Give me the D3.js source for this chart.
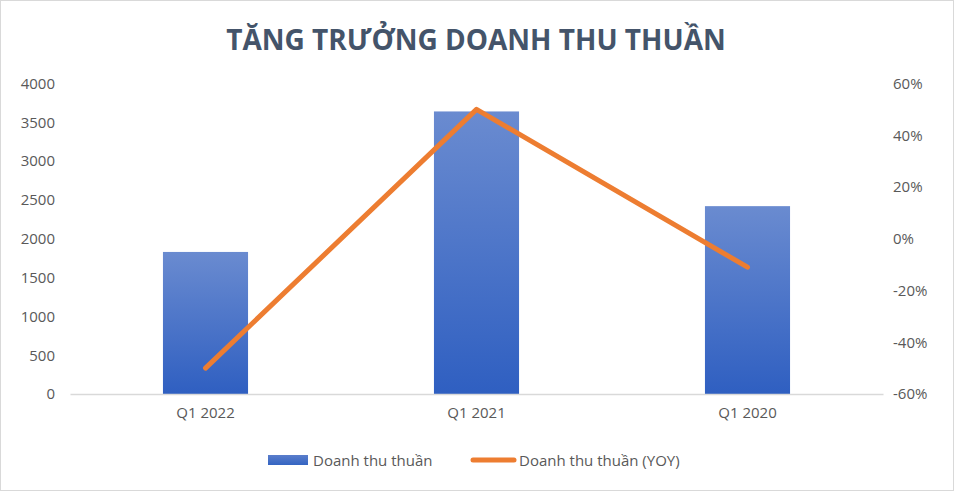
<!DOCTYPE html>
<html><head><meta charset="utf-8">
<script src="https://cdn.jsdelivr.net/npm/d3@7"></script>
<style>body{margin:0;background:#fff;}svg{display:block;font-family:"Open Sans","Noto Sans",sans-serif;}</style>
</head><body><svg id="c" width="954" height="491"></svg>
<script>
const categories = ["Q1 2022", "Q1 2021", "Q1 2020"];
const revenue = [1830, 3640, 2420];
const yoy = [-0.50, 0.50, -0.11];
const leftTicks = [0, 500, 1000, 1500, 2000, 2500, 3000, 3500, 4000];
const rightTicks = [-0.6, -0.4, -0.2, 0, 0.2, 0.4, 0.6];
const title = "TĂNG TRƯỞNG DOANH THU THUẦN";
const seriesNames = ["Doanh thu thuần", "Doanh thu thuần (YOY)"];

const svg = d3.select("#c");
svg.append("rect").attr("x",0.5).attr("y",0.5).attr("width",953).attr("height",490).attr("fill","#fff").attr("stroke","#D9D9D9");

const defs = svg.append("defs");
const g = defs.append("linearGradient").attr("id","bg").attr("x1",0).attr("y1",0).attr("x2",0).attr("y2",1);
g.append("stop").attr("offset","0%").attr("stop-color","#6A8BD0");
g.append("stop").attr("offset","100%").attr("stop-color","#2F5FC1");
const lg = defs.append("linearGradient").attr("id","lg").attr("x1",0).attr("y1",0).attr("x2",0).attr("y2",1);
lg.append("stop").attr("offset","0%").attr("stop-color","#5A7DCB");
lg.append("stop").attr("offset","100%").attr("stop-color","#3464C2");

const x = d3.scaleBand().domain(categories).range([70, 883]).paddingInner(0.686).paddingOuter(0.343);
const yL = d3.scaleLinear().domain([0, 4000]).range([394, 83.5]);
const yR = d3.scaleLinear().domain([-0.6, 0.6]).range([394, 83.5]);

svg.append("text").attr("x",476).attr("y",50).attr("text-anchor","middle")
  .attr("font-size",28).attr("font-weight","bold").attr("fill","#44546A").text(title);

svg.selectAll("rect.bar").data(revenue).enter().append("rect").attr("class","bar")
  .attr("x",(d,i)=>x(categories[i])).attr("width",x.bandwidth())
  .attr("y",d=>yL(d)).attr("height",d=>yL(0)-yL(d)).attr("fill","url(#bg)");

const tf = "'Open Sans','Noto Sans',sans-serif";
const xa = svg.append("g").attr("transform","translate(0,394)").call(d3.axisBottom(x).tickSize(0).tickPadding(13));
xa.select(".domain").attr("stroke","#D9D9D9").attr("stroke-width",1.3);
xa.selectAll("text").attr("font-size",15).attr("fill","#595959").attr("font-family",tf);

const la = svg.append("g").attr("transform","translate(70,0)").call(d3.axisLeft(yL).tickValues(leftTicks).tickSize(0).tickPadding(15).tickFormat(d=>String(d)));
la.select(".domain").remove();
la.selectAll("text").attr("font-size",15).attr("fill","#595959").attr("font-family",tf);

const ra = svg.append("g").attr("transform","translate(883,0)").call(d3.axisRight(yR).tickValues(rightTicks).tickSize(0).tickPadding(10).tickFormat(d=>Math.round(d*100)+"%"));
ra.select(".domain").remove();
ra.selectAll("text").attr("font-size",15).attr("fill","#595959").attr("font-family",tf);

const line = d3.line().x((d,i)=>x(categories[i])+x.bandwidth()/2).y(d=>yR(d));
svg.append("path").datum(yoy).attr("d",line).attr("fill","none").attr("stroke","#ED7D31")
  .attr("stroke-width",5).attr("stroke-linecap","round").attr("stroke-linejoin","round");

const leg = svg.append("g");
leg.append("rect").attr("x",268).attr("y",455).attr("width",40).attr("height",10).attr("fill","url(#lg)");
leg.append("text").attr("x",313).attr("y",466).attr("font-size",15).attr("fill","#595959").text(seriesNames[0]);
leg.append("line").attr("x1",473).attr("x2",514).attr("y1",460).attr("y2",460).attr("stroke","#ED7D31").attr("stroke-width",5).attr("stroke-linecap","round");
leg.append("text").attr("x",519).attr("y",466).attr("font-size",15).attr("fill","#595959").text(seriesNames[1]);
</script></body></html>
